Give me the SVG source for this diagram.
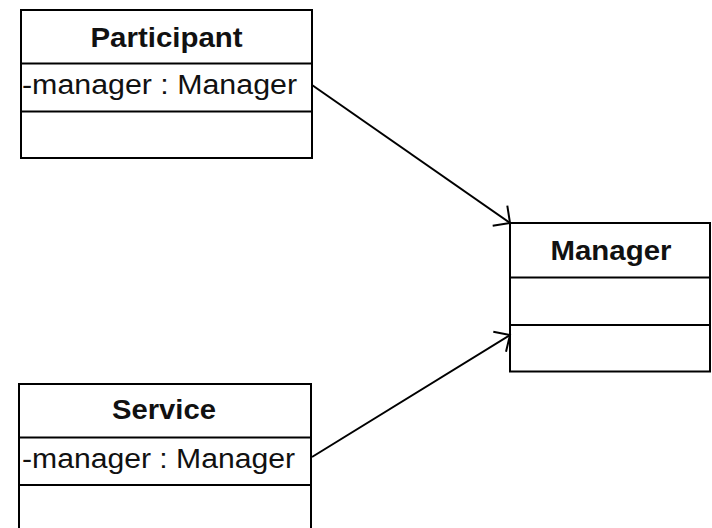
<svg xmlns="http://www.w3.org/2000/svg" width="712" height="528" viewBox="0 0 712 528">
<style>
.box{fill:#fff;stroke:#000;stroke-width:2}
.div{stroke:#000;stroke-width:2}
.title{font-family:"Liberation Sans",Arial,sans-serif;font-weight:bold;font-size:28px;fill:#111;text-anchor:middle}
.attr{font-family:"Liberation Sans",Arial,sans-serif;font-size:27px;fill:#111}
.conn{fill:none;stroke:#000;stroke-width:2}
</style>
<rect width="712" height="528" fill="#fff"/>
<g id="participant">
<rect class="box" x="21" y="10" width="291" height="148"/>
<line class="div" x1="21" y1="63.5" x2="312" y2="63.5"/>
<line class="div" x1="21" y1="111.5" x2="312" y2="111.5"/>
<text class="title" x="166.5" y="46.5" textLength="152" lengthAdjust="spacingAndGlyphs">Participant</text>
<text class="attr" x="22" y="94" textLength="275" lengthAdjust="spacingAndGlyphs">-manager : Manager</text>
</g>
<g id="manager">
<rect class="box" x="510" y="223" width="200" height="148.5"/>
<line class="div" x1="510" y1="277.5" x2="710" y2="277.5"/>
<line class="div" x1="510" y1="325" x2="710" y2="325"/>
<text class="title" x="611" y="260" textLength="121" lengthAdjust="spacingAndGlyphs">Manager</text>
</g>
<g id="service">
<rect class="box" x="19" y="384" width="292" height="160"/>
<line class="div" x1="19" y1="437.5" x2="311" y2="437.5"/>
<line class="div" x1="19" y1="485" x2="311" y2="485"/>
<text class="title" x="164" y="419" textLength="104" lengthAdjust="spacingAndGlyphs">Service</text>
<text class="attr" x="22" y="468" textLength="273" lengthAdjust="spacingAndGlyphs">-manager : Manager</text>
</g>
<g id="connectors">
<path class="conn" d="M312,85 L510,223"/>
<path class="conn" d="M492.7,225.7 L510,223 L507.3,205.7"/>
<path class="conn" d="M312,457 L510,335"/>
<path class="conn" d="M493.3,331.7 L510,335 L506,351.7"/>
</g>
</svg>
